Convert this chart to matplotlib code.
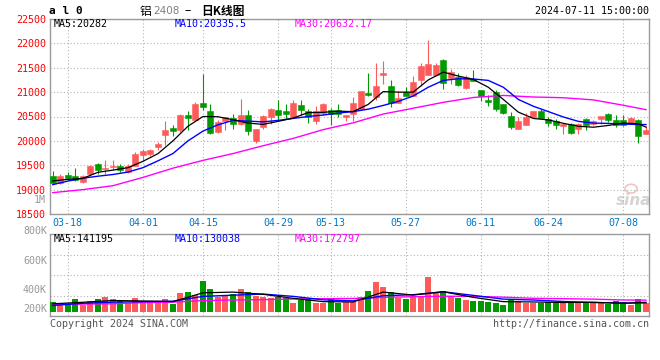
"""
Recreate the Sina daily K-line chart for al2408 (aluminium) with volume panel.
Outputs: out.png (660x360)
"""

import numpy as np
import matplotlib
matplotlib.use("Agg")
import matplotlib.pyplot as plt
from matplotlib.patches import Ellipse

# ============================================================================
# Data
# ============================================================================
dates = ['03-14', '03-15', '03-18', '03-19', '03-20', '03-21', '03-22', '03-25',
         '03-26', '03-27', '03-28', '03-29', '04-01', '04-02', '04-03', '04-08',
         '04-09', '04-10', '04-11', '04-12', '04-15', '04-16', '04-17', '04-18',
         '04-19', '04-22', '04-23', '04-24', '04-25', '04-26', '04-29', '04-30',
         '05-06', '05-07', '05-08', '05-09', '05-10', '05-13', '05-14', '05-15',
         '05-16', '05-17', '05-20', '05-21', '05-22', '05-23', '05-24', '05-27',
         '05-28', '05-29', '05-30', '05-31', '06-03', '06-04', '06-05', '06-06',
         '06-07', '06-11', '06-12', '06-13', '06-14', '06-17', '06-18', '06-19',
         '06-20', '06-21', '06-24', '06-25', '06-26', '06-27', '06-28', '07-01',
         '07-02', '07-03', '07-04', '07-05', '07-08', '07-09', '07-10', '07-11']

opens = [19272, 19135, 19292, 19286, 19160, 19313, 19518, 19420, 19462, 19491,
         19368, 19491, 19702, 19737, 19873, 20112, 20262, 20230, 20522, 20434,
         20775, 20610, 20180, 20405, 20475, 20352, 20522, 19990, 20282, 20500,
         20640, 20610, 20487, 20727, 20610, 20405, 20570, 20625, 20640, 20487,
         20557, 20660, 20980, 20897, 21342, 21117, 20775, 21000, 20912, 21240,
         21342, 21356, 21650, 21287, 21308, 21090, 21274, 21035, 20830, 21000,
         20748, 20500, 20242, 20330, 20487, 20605, 20455, 20405, 20303, 20338,
         20235, 20440, 20338, 20440, 20543, 20420, 20420, 20372, 20420, 20147]
highs = [19375, 19313, 19354, 19436, 19300, 19500, 19545, 19600, 19614, 19518,
         19518, 19764, 19832, 19830, 19975, 20405, 20317, 20545, 20610, 20795,
         21377, 20760, 20420, 20500, 20557, 20850, 20625, 20250, 20522, 20680,
         20830, 20760, 20830, 20845, 20660, 20707, 20775, 20680, 20760, 20530,
         20897, 21014, 21390, 21595, 21630, 21240, 21014, 21103, 21322, 21595,
         22060, 21595, 21685, 21480, 21390, 21342, 21460, 21035, 20932, 21035,
         20748, 20590, 20500, 20570, 20605, 20660, 20487, 20455, 20365, 20365,
         20365, 20467, 20420, 20500, 20570, 20522, 20522, 20487, 20455, 20297]
lows = [19110, 19108, 19190, 19176, 19135, 19300, 19327, 19327, 19395, 19354,
        19340, 19477, 19614, 19696, 19819, 19907, 20092, 20190, 20230, 20420,
        20625, 20150, 20160, 20215, 20250, 20317, 20112, 19955, 20250, 20352,
        20420, 20455, 20487, 20522, 20365, 20352, 20522, 20317, 20487, 20405,
        20405, 20660, 20912, 20830, 21172, 20692, 20775, 20912, 20912, 21117,
        21342, 21322, 21070, 21172, 21117, 21070, 21220, 20815, 20707, 20610,
        20543, 20250, 20242, 20330, 20487, 20467, 20297, 20250, 20133, 20147,
        20147, 20215, 20330, 20352, 20385, 20283, 20297, 20352, 19955, 20147]
closes = [19140, 19286, 19245, 19204, 19280, 19491, 19395, 19450, 19490, 19395,
          19477, 19723, 19790, 19819, 19942, 20215, 20200, 20530, 20467, 20748,
          20693, 20160, 20385, 20487, 20352, 20522, 20200, 20250, 20500, 20645,
          20528, 20557, 20775, 20625, 20500, 20610, 20762, 20557, 20545, 20522,
          20768, 21014, 20947, 21117, 21390, 20775, 20877, 20912, 21205, 21527,
          21568, 21561, 21185, 21410, 21137, 21308, 21225, 20912, 20795, 20660,
          20570, 20282, 20400, 20487, 20605, 20467, 20365, 20317, 20352, 20168,
          20352, 20330, 20405, 20500, 20420, 20330, 20330, 20475, 20092, 20215]
# volume in thousands of lots
volumes = [137, 117, 96, 183, 96, 167, 183, 213, 183, 157,
           127, 198, 142, 137, 137, 183, 117, 274, 289, 254,
           461, 335, 220, 243, 260, 337, 290, 243, 218, 208,
           218, 210, 122, 180, 190, 130, 130, 190, 127, 152,
           152, 218, 309, 446, 370, 294, 203, 183, 218, 243,
           522, 279, 309, 243, 203, 177, 157, 167, 152, 127,
           106, 183, 167, 127, 127, 127, 152, 127, 167, 127,
           127, 127, 127, 127, 117, 157, 142, 106, 183, 127]

# moving-average lines, read at every 2nd day (price) / every 4th day (MA30, volume)
ma_fast_days = dates[::2] + dates[-1:]
ma5_price = [19178, 19210, 19230, 19355, 19400, 19450, 19580, 19737, 20000, 20300,
             20500, 20495, 20434, 20365, 20338, 20400, 20467, 20580, 20585, 20610,
             20600, 20748, 21010, 21000, 21000, 21250, 21410, 21330, 21260, 21100,
             20850, 20590, 20460, 20430, 20360, 20300, 20280, 20317, 20365, 20350,
             20282]
ma10_price = [19102, 19175, 19235, 19275, 19310, 19360, 19450, 19590, 19740, 20000,
              20200, 20330, 20420, 20405, 20390, 20420, 20460, 20500, 20530, 20570,
              20600, 20650, 20727, 20810, 20920, 21100, 21240, 21274, 21270, 21240,
              21100, 20850, 20710, 20600, 20490, 20400, 20365, 20358, 20345, 20335,
              20335]
ma_slow_days = dates[::4] + dates[-1:]
ma30_price = [18938, 19000, 19080, 19250, 19440, 19600, 19740, 19900, 20050, 20230,
              20370, 20550, 20670, 20790, 20890, 20932, 20900, 20885, 20840, 20730,
              20640]
ma5_vol = [117, 140, 167, 160, 150, 284, 295, 262, 200, 150,
           145, 295, 250, 300, 215, 150, 145, 137, 140, 125, 141]
ma10_vol = [91, 125, 142, 150, 157, 230, 248, 265, 230, 178,
            162, 240, 255, 300, 245, 188, 175, 152, 137, 128, 130]
ma30_vol = [111, 113, 117, 135, 142, 165, 175, 180, 190, 195,
            198, 215, 225, 232, 230, 218, 200, 195, 188, 175, 173]

price_ticks = [18500, 19000, 19500, 20000, 20500, 21000, 21500, 22000, 22500]
date_ticks = ['03-18', '04-01', '04-15', '04-29', '05-13', '05-27', '06-11', '06-24', '07-08']
vol_tick_labels = ['800K', '600K', '400K', '200K']

# ============================================================================
# Style
# ============================================================================
W, H = 660, 360
MONO = 'DejaVu Sans Mono'
CJK = ['Noto Sans CJK SC', 'DejaVu Sans']
RED = '#ff5a5a'
GREEN = '#009a00'
GRID = '#b4b4b4'
FRAME = '#9a9a9a'
DATE_BLUE = '#0078c8'
MA_COLORS = ['#000000', '#0000ff', '#ff00ff']


def px_rect(left, top, right, bottom):
    return [left / W, 1 - bottom / H, (right - left) / W, (bottom - top) / H]


def ftext(x, y, s, **kw):
    kw.setdefault('fontsize', 7.2)
    kw.setdefault('family', MONO)
    kw.setdefault('va', 'center')
    fig.text(x / W, 1 - y / H, s, **kw)


fig = plt.figure(figsize=(W / 100, H / 100), dpi=100)
fig.patch.set_facecolor('white')

x = np.arange(len(dates))
up = [c >= o for o, c in zip(opens, closes)]
colors = [RED if u else GREEN for u in up]
xlim = (-0.37, len(dates) - 0.6)
tick_pos = [dates.index(d) for d in date_ticks]

# ============================================================================
# Price panel
# ============================================================================
ax = fig.add_axes(px_rect(50, 19, 649, 214))
ax.vlines(x, lows, highs, colors=colors, linewidth=0.8, zorder=3)
body_bottom = [min(o, c) for o, c in zip(opens, closes)]
body_height = [max(abs(c - o), 8) for o, c in zip(opens, closes)]
ax.bar(x, body_height, bottom=body_bottom, width=0.8, color=colors,
       edgecolor=colors, linewidth=0.4, zorder=4)

fast_x = [dates.index(d) for d in ma_fast_days]
slow_x = [dates.index(d) for d in ma_slow_days]
ax.plot(slow_x, ma30_price, color=MA_COLORS[2], lw=1.0, zorder=5)
ax.plot(fast_x, ma10_price, color=MA_COLORS[1], lw=1.0, zorder=5)
ax.plot(fast_x, ma5_price, color=MA_COLORS[0], lw=0.9, zorder=6)

ax.set_xlim(*xlim)
ax.set_ylim(price_ticks[0], price_ticks[-1])
ax.set_yticks(price_ticks)
ax.set_yticklabels([str(t) for t in price_ticks], family=MONO, fontsize=7.2, color='#ff0000')
ax.set_xticks(tick_pos)
ax.set_xticklabels(date_ticks, family=MONO, fontsize=7.2, color=DATE_BLUE)
ax.tick_params(length=0, pad=3)
ax.grid(True, color=GRID, linestyle=(0, (1, 2)), linewidth=0.8, zorder=0)
for sp in ax.spines.values():
    sp.set_color(FRAME)
    sp.set_linewidth(1.0)

# sina watermark
ax.text(0.975, 0.07, 'sina', transform=ax.transAxes, ha='center', va='center',
        fontsize=11, fontweight='bold', style='italic', color='#d4d4d4', zorder=1)
ax.add_patch(Ellipse((0.97, 0.13), 0.02, 0.045, transform=ax.transAxes,
                     fill=False, edgecolor='#f2c4c4', linewidth=1.2, zorder=1))

# ============================================================================
# Volume panel
# ============================================================================
vol_px = 15.2   # thousand lots per pixel
axv = fig.add_axes(px_rect(50, 234, 649, 316))
axv.bar(x, volumes, width=0.8, color=colors, linewidth=0, zorder=3)
axv.plot(slow_x, ma30_vol, color=MA_COLORS[2], lw=1.0, zorder=5)
axv.plot(slow_x, ma10_vol, color=MA_COLORS[1], lw=1.0, zorder=5)
axv.plot(slow_x, ma5_vol, color=MA_COLORS[0], lw=0.9, zorder=6)
axv.set_xlim(*xlim)
axv.set_ylim(-4.5 * vol_px, 77.5 * vol_px)
axv.set_xticks(tick_pos)
axv.set_yticks([])
axv.tick_params(labelbottom=False, length=0)
axv.grid(True, axis='x', color=GRID, linestyle=(0, (1, 2)), linewidth=0.8, zorder=0)
for f in (0.25, 0.5, 0.75):
    axv.plot([0, 1], [f, f], transform=axv.transAxes, color=GRID,
             linestyle=(0, (1, 2)), linewidth=0.8, zorder=0)
for sp in axv.spines.values():
    sp.set_color(FRAME)
    sp.set_linewidth(1.0)

# ============================================================================
# Texts
# ============================================================================
ftext(49, 11, 'a l 0', fontsize=8, fontweight='bold')
ftext(140, 11, '铝', family=CJK, fontsize=8.5)
ftext(153, 11.5, '2408', family='DejaVu Sans', fontsize=7.5, color='#808080')
ftext(184, 11, '–', family=CJK, fontsize=8.5)
ftext(201, 11, '日K线图', family=CJK, fontsize=8.5, fontweight='bold')
ftext(649, 11.5, '2024-07-11 15:00:00', ha='right')

ma_labels = ['MA5:20282', 'MA10:20335.5', 'MA30:20632.17']
vol_ma_labels = ['MA5:141195', 'MA10:130038', 'MA30:172797']
for xpos, lab, vlab, col in zip([54, 174.5, 295], ma_labels, vol_ma_labels, MA_COLORS):
    ftext(xpos, 24, lab, color=col)
    ftext(xpos, 238.5, vlab, color=col)

ftext(46, 200, '1M', ha='right', color='#999999')
for ypos, lab in zip([231, 261, 290, 309.5], vol_tick_labels):
    ftext(47, ypos, lab, ha='right', color='#999999')

ftext(50, 324, 'Copyright 2024 SINA.COM', color='#555555')
ftext(649, 324, 'http://finance.sina.com.cn', ha='right', color='#555555')

fig.savefig('out.png', dpi=100, facecolor='white')
